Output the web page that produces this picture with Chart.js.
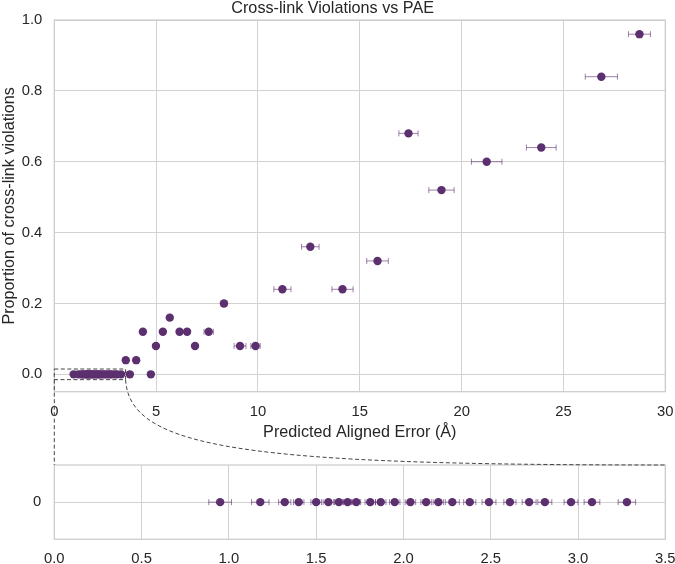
<!DOCTYPE html>
<html>
<head>
<meta charset="utf-8">
<script src="https://cdn.jsdelivr.net/npm/chart.js@4.4.0/dist/chart.umd.min.js"></script>
<style>
  body { margin: 0; background: #fff; }
  #wrap { position: relative; width: 675px; height: 564px; }
  canvas { position: absolute; left: 0; }
  #mainChart { top: 0; }
  #zoomChart { top: 450px; }
  #links { top: 0; pointer-events: none; }
</style>
</head>
<body>
<div id="wrap">
  <canvas id="mainChart" width="675" height="450"></canvas>
  <canvas id="zoomChart" width="675" height="114"></canvas>
  <canvas id="links" width="675" height="564"></canvas>
</div>
<script>
// data
let pae = [0.95, 1.18, 1.32, 1.40, 1.50, 1.57, 1.63, 1.68, 1.73, 1.81, 1.87, 1.95,
           2.04, 2.13, 2.20, 2.28, 2.38, 2.49, 2.61, 2.72, 2.81, 2.96, 3.08, 3.28,
           3.51, 3.71, 4.02, 4.35, 4.74, 4.99, 5.33, 5.67, 6.15, 6.52, 6.91, 7.58,
           8.33, 9.12, 9.88, 11.2, 12.57, 14.15, 15.87, 17.39, 19.01, 21.23, 23.91, 26.86, 28.73];
let violations = [0, 0, 0, 0, 0, 0, 0, 0, 0, 0, 0, 0,
                  0, 0, 0, 0, 0, 0, 0, 0, 0, 0, 0, 0,
                  0.04, 0, 0.04, 0.12, 0, 0.08, 0.12, 0.16, 0.12, 0.12, 0.08, 0.12,
                  0.2, 0.08, 0.08, 0.24, 0.36, 0.24, 0.32, 0.68, 0.52, 0.6, 0.64, 0.84, 0.96];
let paeErr = [0.065, 0.05, 0.035, 0.03, 0.03, 0.03, 0.025, 0.025, 0.025, 0.03, 0.03, 0.03,
              0.03, 0.03, 0.03, 0.04, 0.035, 0.04, 0.035, 0.04, 0.04, 0.04, 0.045, 0.05,
              0.08, 0.08, 0.09, 0.09, 0.1, 0.1, 0.1, 0.1, 0.11, 0.11, 0.12, 0.23,
              0.15, 0.29, 0.23, 0.42, 0.43, 0.52, 0.53, 0.47, 0.62, 0.75, 0.73, 0.79, 0.54];

let mainXTicks = [0, 5, 10, 15, 20, 25, 30];
let mainYTicks = [0, 0.2, 0.4, 0.6, 0.8, 1.0];
let zoomXTicks = [0, 0.5, 1.0, 1.5, 2.0, 2.5, 3.0, 3.5];
let zoomYTicks = [0];
let zoomX = [0, 3.5];
let zoomY = [-0.015, 0.015];

let font = "'Liberation Sans', Arial, sans-serif";
let textColor = '#262626';
let gridColor = '#d2d2d2';
let dotColor = '#5c2f6e';
let errColor = 'rgba(92, 47, 110, 0.6)';

let points = pae.map((x, i) => ({x: x, y: violations[i], err: paeErr[i]}));

const frame = {
    id: 'frame',
    beforeDatasetsDraw(chart){
        let a = chart.chartArea;
        let ctx = chart.ctx;
        ctx.save();
        ctx.strokeStyle = '#cccccc';
        ctx.lineWidth = 1.25;
        ctx.strokeRect(a.left, a.top, a.width, a.height);
        ctx.restore();
    }
};

const errorBars = {
    id: 'errorBars',
    beforeDatasetsDraw(chart){
        let ctx = chart.ctx;
        let xs = chart.scales.x, ys = chart.scales.y;
        let a = chart.chartArea;
        ctx.save();
        ctx.beginPath();
        ctx.rect(a.left, a.top, a.width, a.height);
        ctx.clip();
        ctx.strokeStyle = errColor;
        ctx.lineWidth = 1;
        chart.data.datasets[0].data.forEach(p => {
            let py = ys.getPixelForValue(p.y);
            let x1 = xs.getPixelForValue(p.x - p.err);
            let x2 = xs.getPixelForValue(p.x + p.err);
            ctx.beginPath();
            ctx.moveTo(x1, py); ctx.lineTo(x2, py);
            ctx.moveTo(x1, py - 3); ctx.lineTo(x1, py + 3);
            ctx.moveTo(x2, py - 3); ctx.lineTo(x2, py + 3);
            ctx.stroke();
        });
        ctx.restore();
    }
};

const zoomBox = {
    id: 'zoomBox',
    afterDatasetsDraw(chart){
        let ctx = chart.ctx;
        let xs = chart.scales.x, ys = chart.scales.y;
        let l = xs.getPixelForValue(zoomX[0]), r = xs.getPixelForValue(zoomX[1]);
        let t = ys.getPixelForValue(zoomY[1]), b = ys.getPixelForValue(zoomY[0]);
        ctx.save();
        ctx.setLineDash([4, 2.5]);
        ctx.strokeStyle = '#444444';
        ctx.lineWidth = 1;
        ctx.strokeRect(l, t, r - l, b - t);
        ctx.restore();
    }
};

function axisOpts(min, max, ticks, fmt, pad, size){
    return {
        type: 'linear',
        min: min,
        max: max,
        afterBuildTicks: s => { s.ticks = ticks.map(v => ({value: v})); },
        afterFit: s => {
            // keep the plot area where the picture has it
            if (s.isHorizontal()) s.height = size; else s.width = size;
            s.paddingLeft = 0; s.paddingRight = 0; s.paddingTop = 0; s.paddingBottom = 0;
        },
        grid: {color: gridColor, lineWidth: 1, drawTicks: false},
        border: {display: false},
        ticks: {color: textColor, font: {family: font, size: 14.8}, padding: pad,
                maxRotation: 0, autoSkip: false, callback: fmt}
    };
}

let mainX = axisOpts(0, 30, mainXTicks, v => String(v), 11, 58.3);
mainX.title = {display: true, text: 'Predicted Aligned Error (Å)', color: textColor,
               font: {family: font, size: 16.2}, padding: {top: 0, bottom: 7.3}};
let mainY = axisOpts(-0.049, 1.0, mainYTicks, v => v.toFixed(1), 12, 54.3);
mainY.title = {display: true, text: 'Proportion of cross-link violations', color: textColor,
               font: {family: font, size: 16.2}, padding: {top: 0, bottom: 0}};

let mainChart = new Chart(document.getElementById('mainChart'), {
    type: 'scatter',
    data: {datasets: [{data: points, pointRadius: 4.2, pointHoverRadius: 4.2,
                       backgroundColor: dotColor, borderWidth: 0}]},
    options: {
        responsive: false,
        animation: false,
        layout: {padding: {left: 0, right: 9.7, top: 0, bottom: 0}},
        plugins: {
            legend: {display: false},
            tooltip: {enabled: false},
            title: {display: true, text: 'Cross-link Violations vs PAE', color: textColor,
                    font: {family: font, size: 16.2, weight: 'normal', lineHeight: 1},
                    padding: {top: 0, bottom: 3.8}}
        },
        scales: {x: mainX, y: mainY}
    },
    plugins: [frame, errorBars, zoomBox]
});

let zx = axisOpts(zoomX[0], zoomX[1], zoomXTicks, v => v.toFixed(1), 11, 24.7);
let zy = axisOpts(zoomY[0], zoomY[1], zoomYTicks, v => String(v), 13, 54.3);

let zoomChart = new Chart(document.getElementById('zoomChart'), {
    type: 'scatter',
    data: {datasets: [{data: points.filter(p => p.x <= zoomX[1]), pointRadius: 4.2, pointHoverRadius: 4.2,
                       backgroundColor: dotColor, borderWidth: 0}]},
    options: {
        responsive: false,
        animation: false,
        layout: {padding: {left: 0, right: 9.7, top: 15, bottom: 0}},
        plugins: {legend: {display: false}, tooltip: {enabled: false}},
        scales: {x: zx, y: zy}
    },
    plugins: [frame, errorBars]
});

function drawLinks(){
    let canvas = document.getElementById('links');
    let ctx = canvas.getContext('2d');
    let offset = document.getElementById('zoomChart').offsetTop;
    let mx = mainChart.scales.x, my = mainChart.scales.y;
    let za = zoomChart.chartArea;
    let x0 = mx.getPixelForValue(zoomX[0]);
    let x1 = mx.getPixelForValue(zoomX[1]);
    let yb = my.getPixelForValue(zoomY[0]);
    let zTop = za.top + offset;
    let dx = za.right - x1, dy = zTop - yb;
    ctx.setLineDash([4, 2.5]);
    ctx.strokeStyle = '#444444';
    ctx.lineWidth = 1;
    ctx.beginPath();
    ctx.moveTo(x0, yb);
    ctx.lineTo(za.left, zTop);
    ctx.stroke();
    ctx.beginPath();
    ctx.moveTo(x1, yb);
    ctx.bezierCurveTo(x1 + 4, yb + dy * 0.82, x1 + dx * 0.23, zTop, za.right, zTop);
    ctx.stroke();
}
drawLinks();
</script>
</body>
</html>
